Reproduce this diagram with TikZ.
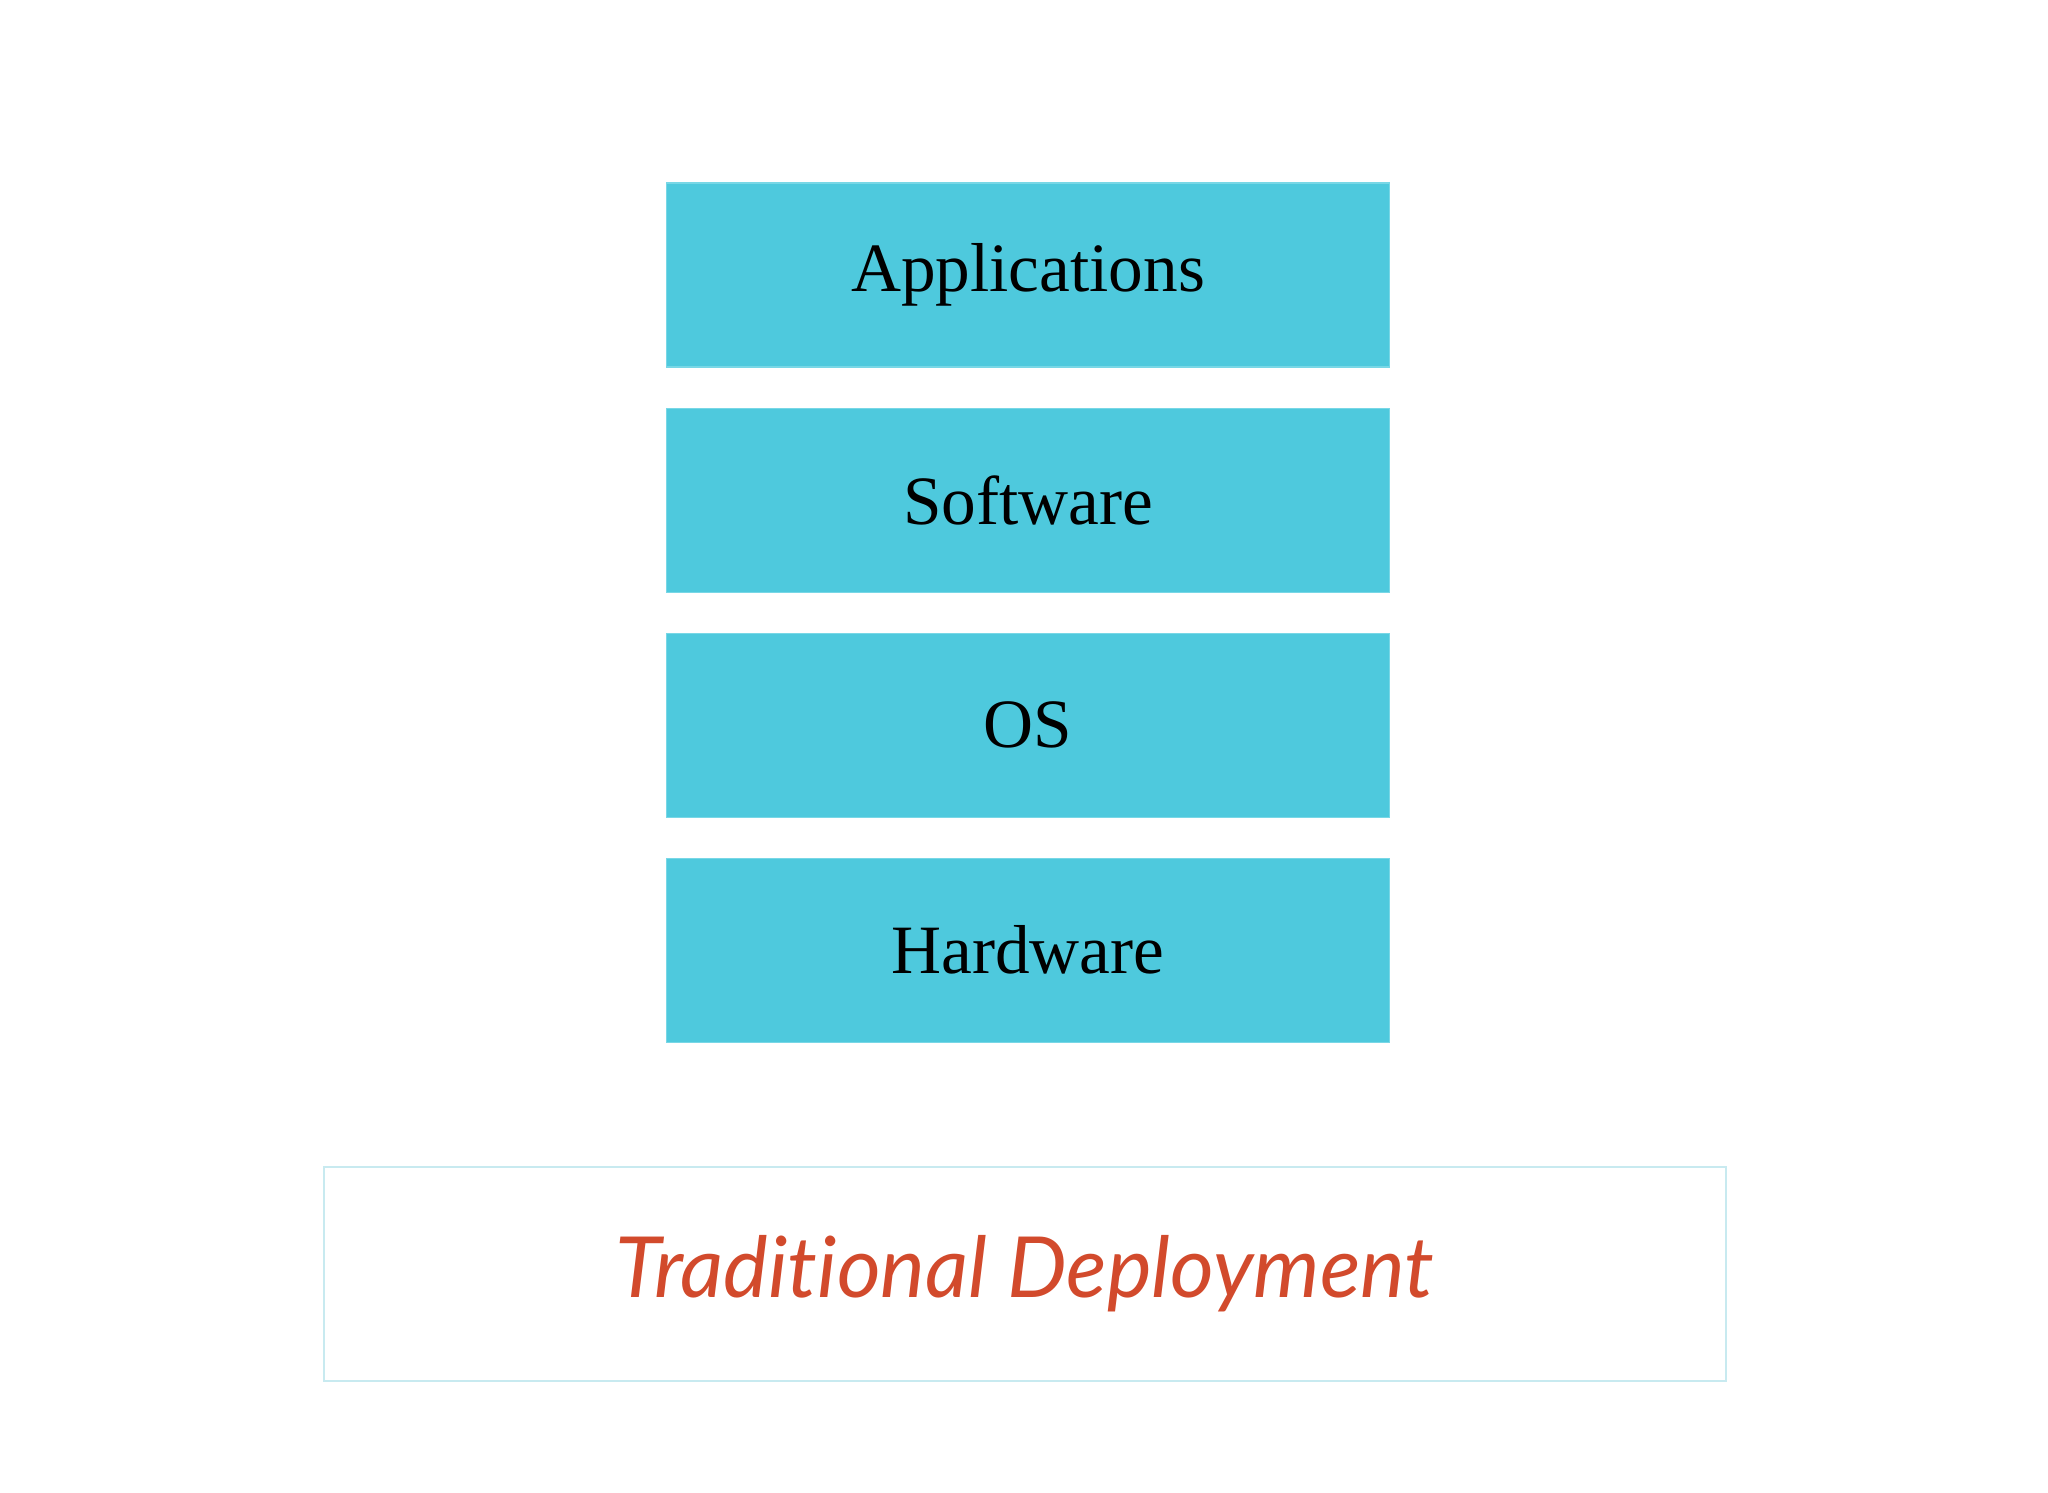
\documentclass[tikz,border=0pt]{standalone}
\usepackage{fontspec}
\setmainfont{Liberation Serif}
\newfontfamily\labelfont[Ligatures=NoCommon]{Lato Italic}
\usetikzlibrary{positioning}

\definecolor{schicht}{RGB}{78,201,221}
\definecolor{schichtrand}{RGB}{120,215,230}
\definecolor{titelrot}{RGB}{210,74,44}
\definecolor{titelrand}{RGB}{200,234,240}

\begin{document}
\begin{tikzpicture}[
	layer/.style={fill=schicht, draw=schichtrand, line width=0.3pt, minimum width=7.23cm, minimum height=1.84cm, inner sep=0pt, font=\fontsize{19.7}{24}\selectfont},
	caption/.style={draw=titelrand, line width=0.6pt, minimum width=14.02cm, minimum height=2.14cm, inner sep=0pt, text=titelrot, font=\labelfont\fontsize{24}{28}\selectfont},
	node distance=0.4cm
]
	\fill[white] (0,0) rectangle (20.48,14.93); % weisser Rand
	
	\node[layer] (apps) at (10.28,12.18) {Applications};
	\node[layer, below=of apps] (sw) {Software};
	\node[layer, below=of sw] (os) {OS};
	\node[layer, below=of os] (hw) {Hardware};
	
	\node[caption] (title) at (10.25,2.19) {\raisebox{-1.5pt}{Traditional Deployment}};
	
	%\draw[help lines] (0,0) grid (20.48,14.93);
\end{tikzpicture}
\end{document}
